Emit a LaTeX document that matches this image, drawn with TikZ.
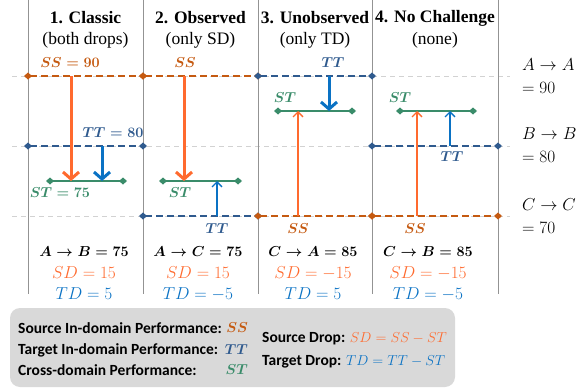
\documentclass[tikz,border=0pt]{standalone}
\usepackage{fontspec}
\usepackage{amsmath}
\setmainfont{Liberation Serif}
\newfontfamily\legendfont{Carlito}
\usetikzlibrary{arrows.meta}

\definecolor{ssdark}{HTML}{C55A11}
\definecolor{ssarrow}{HTML}{FF6A2E}
\definecolor{ttdark}{HTML}{2F5A8E}
\definecolor{ttarrow}{HTML}{0A72C4}
\definecolor{stgreen}{HTML}{3A8C6A}
\definecolor{legendgray}{HTML}{D9D9D9}

\tikzset{
  guide/.style={gray!35, line width=0.8pt, dash pattern=on 5pt off 4pt},
  colsep/.style={gray!85, line width=0.9pt},
  ends/.style={{Diamond[length=8pt,width=7pt]}-{Diamond[length=8pt,width=7pt]}, shorten <=-4pt, shorten >=-4pt},
  ssline/.style={ends, ssdark, line width=2.4pt, dash pattern=on 7pt off 4pt},
  ttline/.style={ends, ttdark, line width=2.4pt, dash pattern=on 7pt off 4pt},
  stline/.style={ends, stgreen, line width=2.4pt},
  bigarrow/.style={line width=3pt, -{Straight Barb[length=7pt,width=16pt]}},
  thinarrow/.style={line width=1.4pt, -{Straight Barb[length=5pt,width=10pt]}},
  head/.style={font=\fontsize{17.5}{20}\selectfont\bfseries},
  subhead/.style={font=\fontsize{17.5}{20}\selectfont},
  lab/.style={font=\fontsize{15}{17}\selectfont\boldmath, inner sep=0pt},
  result/.style={font=\fontsize{16.5}{19}\selectfont, inner sep=0pt},
  legend/.style={font=\fontsize{15.5}{18}\selectfont\legendfont\bfseries, inner sep=0pt}
}

\begin{document}
\begin{tikzpicture}[x=1pt,y=-1pt]
  \useasboundingbox (0,0) rectangle (587,388);

  % Column borders and the three levels
  \foreach \x [count=\i] in {28,143,258,372,498} {
    \coordinate (top\i) at (\x,0);
    \coordinate (bot\i) at (\x,294);
    \coordinate (hi\i) at (\x,76);
    \coordinate (mid\i) at (\x,146);
    \coordinate (lo\i) at (\x,216);
  }
  \coordinate (gl) at (12,0);
  \coordinate (gr) at (510,0);

  % Gray guides
  \foreach \lv in {hi,mid,lo}
    \draw[guide] (gl |- \lv1) -- (gr |- \lv1);
  \foreach \i in {1,...,5}
    \draw[colsep] (top\i) -- (bot\i);

  % Headers
  \foreach \c/\t/\s [count=\i] in {85.5/1. Classic/(both drops),200.5/2. Observed/(only SD),315/3. Unobserved/(only TD),435/4. No Challenge/(none)} {
    \node[head] (head\i) at (\c,18) {\t};
    \node[subhead] (sub\i) at (\c,40) {\s};
  }

  % Column 1: both drops
  \draw[ssline] (hi1) -- (hi2);
  \draw[ttline] (mid1) -- (mid2);
  \coordinate (stL1) at (50,181);
  \coordinate (stR1) at (123,181);
  \draw[stline] (stL1) -- (stR1);
  \coordinate (ssFrom1) at (71,76);
  \coordinate (ssTo1) at (71,181);
  \coordinate (ttFrom1) at (102,146);
  \coordinate (ttTo1) at (102,181);
  \draw[bigarrow, ssarrow] (ssFrom1) -- (ssTo1);
  \draw[bigarrow, ttarrow] (ttFrom1) -- (ttTo1);
  \node[lab, text=ssdark] (ss1) at (70,63) {$SS=90$};
  \node[lab, text=ttdark] (tt1) at (113,133) {$TT=80$};
  \node[lab, text=stgreen] (st1) at (60,193) {$ST=75$};

  % Column 2: only SD
  \draw[ssline] (hi2) -- (hi3);
  \draw[ttline] (lo2) -- (lo3);
  \coordinate (stL2) at (163,181);
  \coordinate (stR2) at (238,181);
  \draw[stline] (stL2) -- (stR2);
  \coordinate (ssFrom2) at (184,76);
  \coordinate (ssTo2) at (184,181);
  \coordinate (ttFrom2) at (217,216);
  \coordinate (ttTo2) at (217,181);
  \draw[bigarrow, ssarrow] (ssFrom2) -- (ssTo2);
  \draw[thinarrow, ttarrow] (ttFrom2) -- (ttTo2);
  \node[lab, text=ssdark] (ss2) at (185,63) {$SS$};
  \node[lab, text=stgreen] (st2) at (180,193) {$ST$};
  \node[lab, text=ttdark] (tt2) at (217,229) {$TT$};

  % Column 3: only TD
  \draw[ttline] (hi3) -- (hi4);
  \draw[ssline] (lo3) -- (lo4);
  \coordinate (stL3) at (278,111);
  \coordinate (stR3) at (352,111);
  \draw[stline] (stL3) -- (stR3);
  \coordinate (ttFrom3) at (329,76);
  \coordinate (ttTo3) at (329,111);
  \coordinate (ssFrom3) at (298,216);
  \coordinate (ssTo3) at (298,111);
  \draw[bigarrow, ttarrow] (ttFrom3) -- (ttTo3);
  \draw[thinarrow, ssarrow] (ssFrom3) -- (ssTo3);
  \node[lab, text=ttdark] (tt3) at (333,63) {$TT$};
  \node[lab, text=stgreen] (st3) at (285,98) {$ST$};
  \node[lab, text=ssdark] (ss3) at (298,229) {$SS$};

  % Column 4: none
  \draw[ttline] (mid4) -- (mid5);
  \draw[ssline] (lo4) -- (lo5);
  \coordinate (stL4) at (400,111);
  \coordinate (stR4) at (473,111);
  \draw[stline] (stL4) -- (stR4);
  \coordinate (ssFrom4) at (417,216);
  \coordinate (ssTo4) at (417,111);
  \coordinate (ttFrom4) at (450,146);
  \coordinate (ttTo4) at (450,111);
  \draw[thinarrow, ssarrow] (ssFrom4) -- (ssTo4);
  \draw[thinarrow, ttarrow] (ttFrom4) -- (ttTo4);
  \node[lab, text=stgreen] (st4) at (400,98) {$ST$};
  \node[lab, text=ttdark] (tt4) at (452,157) {$TT$};
  \node[lab, text=ssdark] (ss4) at (415,229) {$SS$};

  % Results under each column
  \foreach \c/\r/\v/\sd/\td [count=\i] in {84/A\to B/75/15/5,198/A\to C/75/15/-5,313/C\to A/85/-15/5,428/C\to B/85/-15/-5} {
    \node[result, font=\fontsize{15}{17}\selectfont] (res\i) at (\c,252) {$\boldsymbol{\r=\v}$};
    \node[result, text=ssarrow] (sd\i) at (\c,273) {$SD=\sd$};
    \node[result, text=ttarrow] (td\i) at (\c,294) {$TD=\td$};
  }

  % In-domain values on the right
  \node[result, anchor=west] (aa) at (522,65) {$A\to A$};
  \node[result, anchor=west] (aav) at (522,88) {$=90$};
  \node[result, anchor=west] (bb) at (522,134) {$B\to B$};
  \node[result, anchor=west] (bbv) at (522,157) {$=80$};
  \node[result, anchor=west] (cc) at (522,205) {$C\to C$};
  \node[result, anchor=west] (ccv) at (522,228) {$=70$};

  % Legend
  \fill[legendgray, rounded corners=10pt] (10,308) rectangle (455,387);
  \node[legend, anchor=west] (lgS) at (18,328) {Source In-domain Performance:};
  \node[legend, anchor=west] (lgT) at (18,350) {Target In-domain Performance:};
  \node[legend, anchor=west] (lgC) at (18,370) {Cross-domain Performance:};
  \node[lab, anchor=east, text=ssdark] (lgSS) at (248,328) {$SS$};
  \node[lab, anchor=east, text=ttdark] (lgTT) at (248,350) {$TT$};
  \node[lab, anchor=east, text=stgreen] (lgST) at (248,370) {$ST$};
  \node[legend, anchor=west] (lgSD) at (262,339) {Source Drop: \textcolor{ssarrow}{\fontsize{15}{17}\selectfont\mdseries$SD=SS-ST$}};
  \node[legend, anchor=west] (lgTD) at (262,362) {Target Drop: \textcolor{ttarrow}{\fontsize{15}{17}\selectfont\mdseries$TD=TT-ST$}};
\end{tikzpicture}
\end{document}
